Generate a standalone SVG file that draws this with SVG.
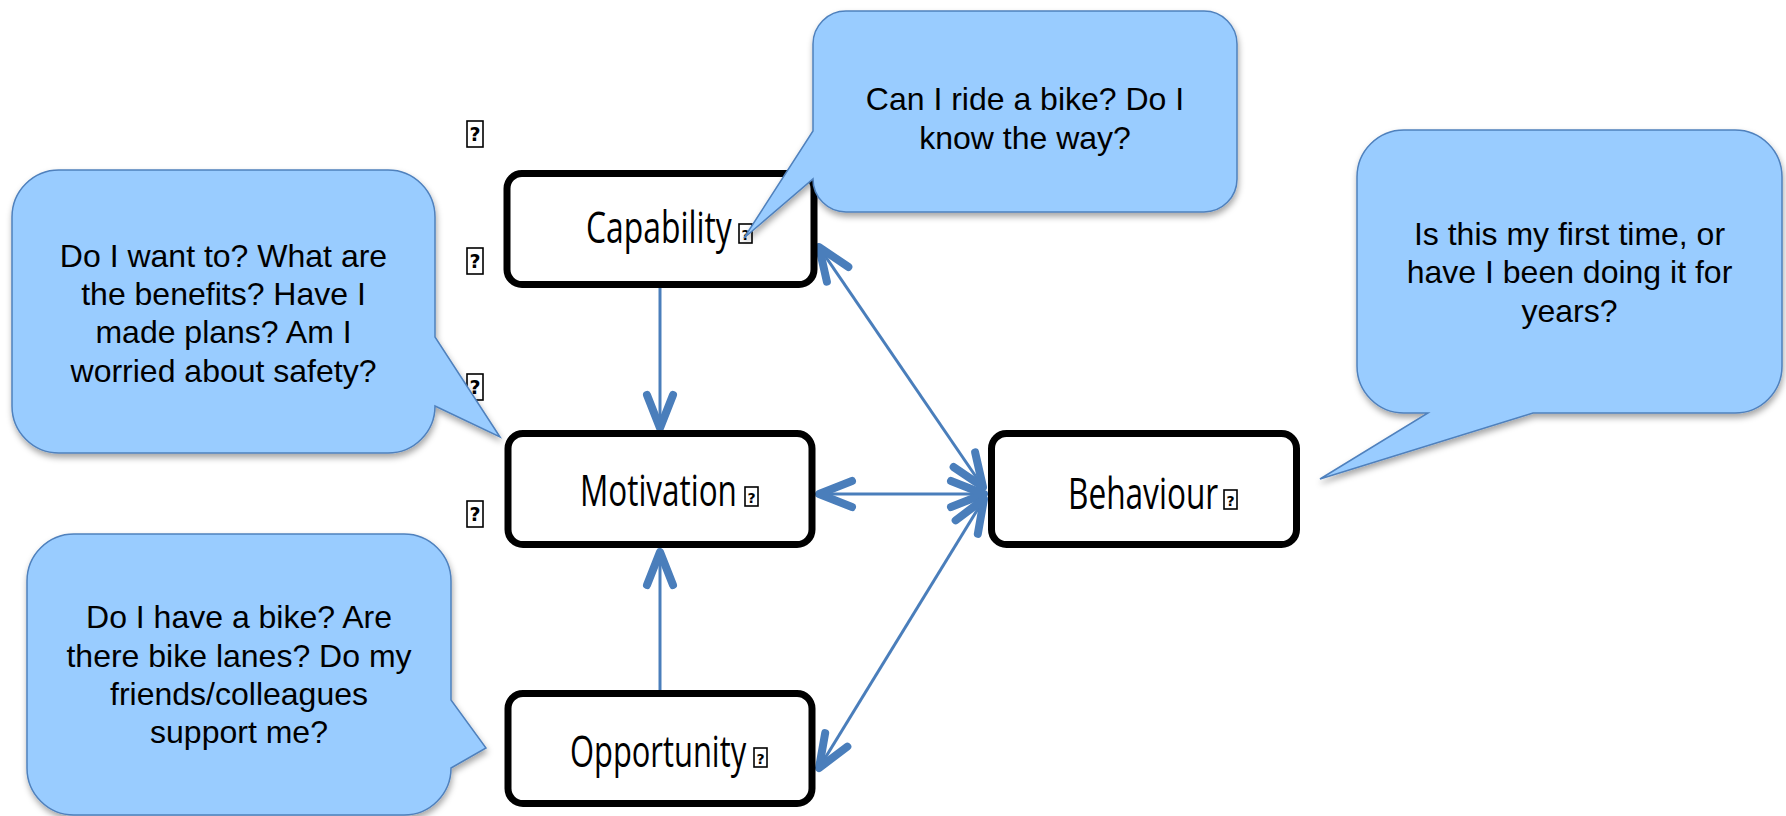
<svg xmlns="http://www.w3.org/2000/svg" width="1786" height="816" viewBox="0 0 1786 816">
  <style>
    .box { fill: #ffffff; stroke: #000000; stroke-width: 7; }
    .label { font-family: "Open Sans", "Noto Sans", sans-serif; font-size: 43px; fill: #000000; }
    .bubble { fill: #99CCFF; stroke: #4F81BD; stroke-width: 1.5; filter: url(#shadow); }
    .btext { font-family: "Liberation Sans", Arial, sans-serif; font-size: 32px; fill: #000000; text-anchor: middle; }
    .link { fill: none; stroke: #4A7EBB; stroke-width: 3; }
    .tofu rect { fill: #ffffff; stroke: #000000; stroke-width: 1.6; }
    .tofu text { font-family: "DejaVu Sans", sans-serif; font-weight: bold; fill: #000000; text-anchor: middle; }
  </style>
  <defs>
    <filter id="shadow" x="-10%" y="-10%" width="125%" height="130%">
      <feDropShadow dx="1" dy="4" stdDeviation="3" flood-color="#000000" flood-opacity="0.35"/>
    </filter>
    <marker id="head" markerUnits="userSpaceOnUse" viewBox="-45 -25 55 50" markerWidth="55" markerHeight="50" refX="0" refY="0" orient="auto-start-reverse" overflow="visible">
      <path d="M-33,-13 L0,0 L-33,13" fill="none" stroke="#4A7EBB" stroke-width="8" stroke-linecap="round" stroke-linejoin="round"/>
    </marker>
  </defs>

  <rect width="1786" height="816" fill="#ffffff"/>

  <!-- stray placeholder glyphs in the left margin -->
  <g id="margin-marks" class="tofu">
    <rect x="467" y="121" width="16" height="26"/><text x="475" y="141" font-size="19">?</text>
    <rect x="467" y="248" width="16" height="26"/><text x="475" y="268" font-size="19">?</text>
    <rect x="467" y="374" width="16" height="26"/><text x="475" y="394" font-size="19">?</text>
    <rect x="467" y="501" width="16" height="26"/><text x="475" y="521" font-size="19">?</text>
  </g>

  <!-- connectors -->
  <g id="connectors">
    <path class="link" d="M660,287 L660,428" marker-end="url(#head)"/>
    <path class="link" d="M660,690 L660,552" marker-end="url(#head)"/>
    <path class="link" d="M819,494 L984,494" marker-start="url(#head)" marker-end="url(#head)"/>
    <path class="link" d="M819,247 L983,487" marker-start="url(#head)" marker-end="url(#head)"/>
    <path class="link" d="M984,499 L819,768" marker-start="url(#head)" marker-end="url(#head)"/>
  </g>

  <!-- component boxes; labels use a horizontally narrowed face -->
  <g id="capability">
    <rect class="box" x="507" y="173.5" width="307" height="111" rx="15"/>
    <text class="label" transform="translate(586 243) scale(0.74 1)" textLength="197" lengthAdjust="spacingAndGlyphs">Capability</text>
    <g class="tofu"><rect x="739" y="224" width="13" height="19"/><text x="745.5" y="240" font-size="14">?</text></g>
  </g>
  <g id="motivation">
    <rect class="box" x="508" y="433.5" width="304" height="111" rx="15"/>
    <text class="label" transform="translate(580 506) scale(0.74 1)" textLength="212" lengthAdjust="spacingAndGlyphs">Motivation</text>
    <g class="tofu"><rect x="745" y="487" width="13" height="19"/><text x="751.5" y="503" font-size="14">?</text></g>
  </g>
  <g id="opportunity">
    <rect class="box" x="508" y="693.5" width="304" height="110" rx="15"/>
    <text class="label" transform="translate(570 767) scale(0.74 1)" textLength="238" lengthAdjust="spacingAndGlyphs">Opportunity</text>
    <g class="tofu"><rect x="754" y="748" width="13" height="19"/><text x="760.5" y="764" font-size="14">?</text></g>
  </g>
  <g id="behaviour">
    <rect class="box" x="991.5" y="433.5" width="305" height="111" rx="15"/>
    <text class="label" transform="translate(1068 509) scale(0.74 1)" textLength="203" lengthAdjust="spacingAndGlyphs">Behaviour</text>
    <g class="tofu"><rect x="1224" y="490" width="13" height="19"/><text x="1230.5" y="506" font-size="14">?</text></g>
  </g>

  <!-- speech bubbles -->
  <g id="motivation-note">
    <path class="bubble" d="M59,170 H388 A47,47 0 0 1 435,217 V337 L500,437 L435,406 A47,47 0 0 1 388,453 H59 A47,47 0 0 1 12,406 V217 A47,47 0 0 1 59,170 Z"/>
    <text class="btext" x="223.5" y="267">Do I want to? What are</text>
    <text class="btext" x="223.5" y="305">the benefits? Have I</text>
    <text class="btext" x="223.5" y="343">made plans? Am I</text>
    <text class="btext" x="223.5" y="382">worried about safety?</text>
  </g>
  <g id="capability-note">
    <path class="bubble" d="M846,11 H1204 A33,33 0 0 1 1237,44 V179 A33,33 0 0 1 1204,212 H846 A33,33 0 0 1 813,179 L744,238 L813,131 V44 A33,33 0 0 1 846,11 Z"/>
    <text class="btext" x="1025" y="110">Can I ride a bike? Do I</text>
    <text class="btext" x="1025" y="149">know the way?</text>
  </g>
  <g id="behaviour-note">
    <path class="bubble" d="M1404,130 H1735 A47,47 0 0 1 1782,177 V366 A47,47 0 0 1 1735,413 H1533 L1320,479 L1428,413 H1404 A47,47 0 0 1 1357,366 V177 A47,47 0 0 1 1404,130 Z"/>
    <text class="btext" x="1569.5" y="245">Is this my first time, or</text>
    <text class="btext" x="1569.5" y="283">have I been doing it for</text>
    <text class="btext" x="1569.5" y="322">years?</text>
  </g>
  <g id="opportunity-note">
    <path class="bubble" d="M74,534 H404 A47,47 0 0 1 451,581 V700 L486,748 L451,768 A47,47 0 0 1 404,815 H74 A47,47 0 0 1 27,768 V581 A47,47 0 0 1 74,534 Z"/>
    <text class="btext" x="239" y="628">Do I have a bike? Are</text>
    <text class="btext" x="239" y="667">there bike lanes? Do my</text>
    <text class="btext" x="239" y="705">friends/colleagues</text>
    <text class="btext" x="239" y="743">support me?</text>
  </g>
</svg>
